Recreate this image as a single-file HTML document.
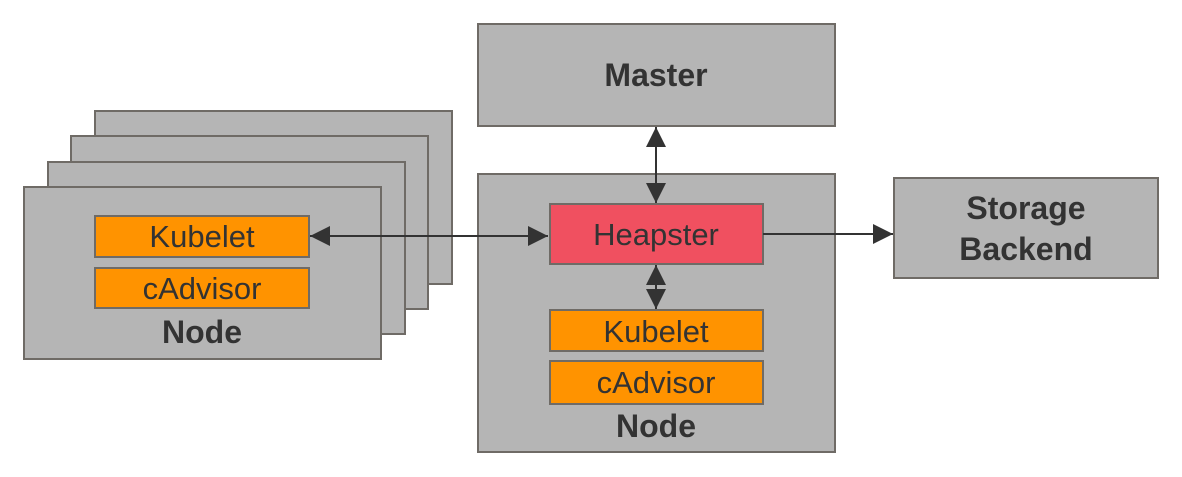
<!DOCTYPE html>
<html><head><meta charset="utf-8"><style>
html,body{margin:0;padding:0;background:#fff}
svg{display:block}
text{font-family:"Liberation Sans",sans-serif;fill:#333;text-anchor:middle}
.b{font-weight:bold;font-size:32px}
.n{font-size:31px}
</style></head><body>
<svg width="1182" height="477" viewBox="0 0 1182 477" xmlns="http://www.w3.org/2000/svg">
<defs>
<marker id="a" viewBox="0 0 10 10" refX="10" refY="5" markerWidth="20" markerHeight="20" markerUnits="userSpaceOnUse" orient="auto-start-reverse"><path d="M0,0 L10,5 L0,10 z" fill="#333"/></marker>
</defs>
<g fill="#b5b5b5" stroke="#6f6b66" stroke-width="2">
<rect x="95" y="111" width="357" height="173"/>
<rect x="71" y="136" width="357" height="173"/>
<rect x="48" y="162" width="357" height="172"/>
<rect x="24" y="187" width="357" height="172"/>
<rect x="478" y="24" width="357" height="102"/>
<rect x="478" y="174" width="357" height="278"/>
<rect x="894" y="178" width="264" height="100"/>
</g>
<g fill="#ff9300" stroke="#6f6b66" stroke-width="2">
<rect x="95" y="216" width="214" height="41"/>
<rect x="95" y="268" width="214" height="40"/>
<rect x="550" y="310" width="213" height="41"/>
<rect x="550" y="361" width="213" height="43"/>
</g>
<rect x="550" y="204" width="213" height="60" fill="#f05060" stroke="#6f6b66" stroke-width="2"/>
<g stroke="#333" stroke-width="2" fill="none">
<line x1="310" y1="236" x2="548" y2="236" marker-start="url(#a)" marker-end="url(#a)"/>
<line x1="656" y1="127" x2="656" y2="203" marker-start="url(#a)" marker-end="url(#a)"/>
<line x1="656" y1="265" x2="656" y2="309" marker-start="url(#a)" marker-end="url(#a)"/>
<line x1="763" y1="234" x2="893" y2="234" marker-end="url(#a)"/>
</g>
<text class="n" x="202" y="247">Kubelet</text>
<text class="n" x="202" y="299">cAdvisor</text>
<text class="b" x="202" y="343">Node</text>
<text class="b" x="656" y="86">Master</text>
<text class="n" x="656" y="245">Heapster</text>
<text class="n" x="656" y="342">Kubelet</text>
<text class="n" x="656" y="393">cAdvisor</text>
<text class="b" x="656" y="437">Node</text>
<text class="b" x="1026" y="219">Storage</text>
<text class="b" x="1026" y="260">Backend</text>
</svg>
</body></html>
